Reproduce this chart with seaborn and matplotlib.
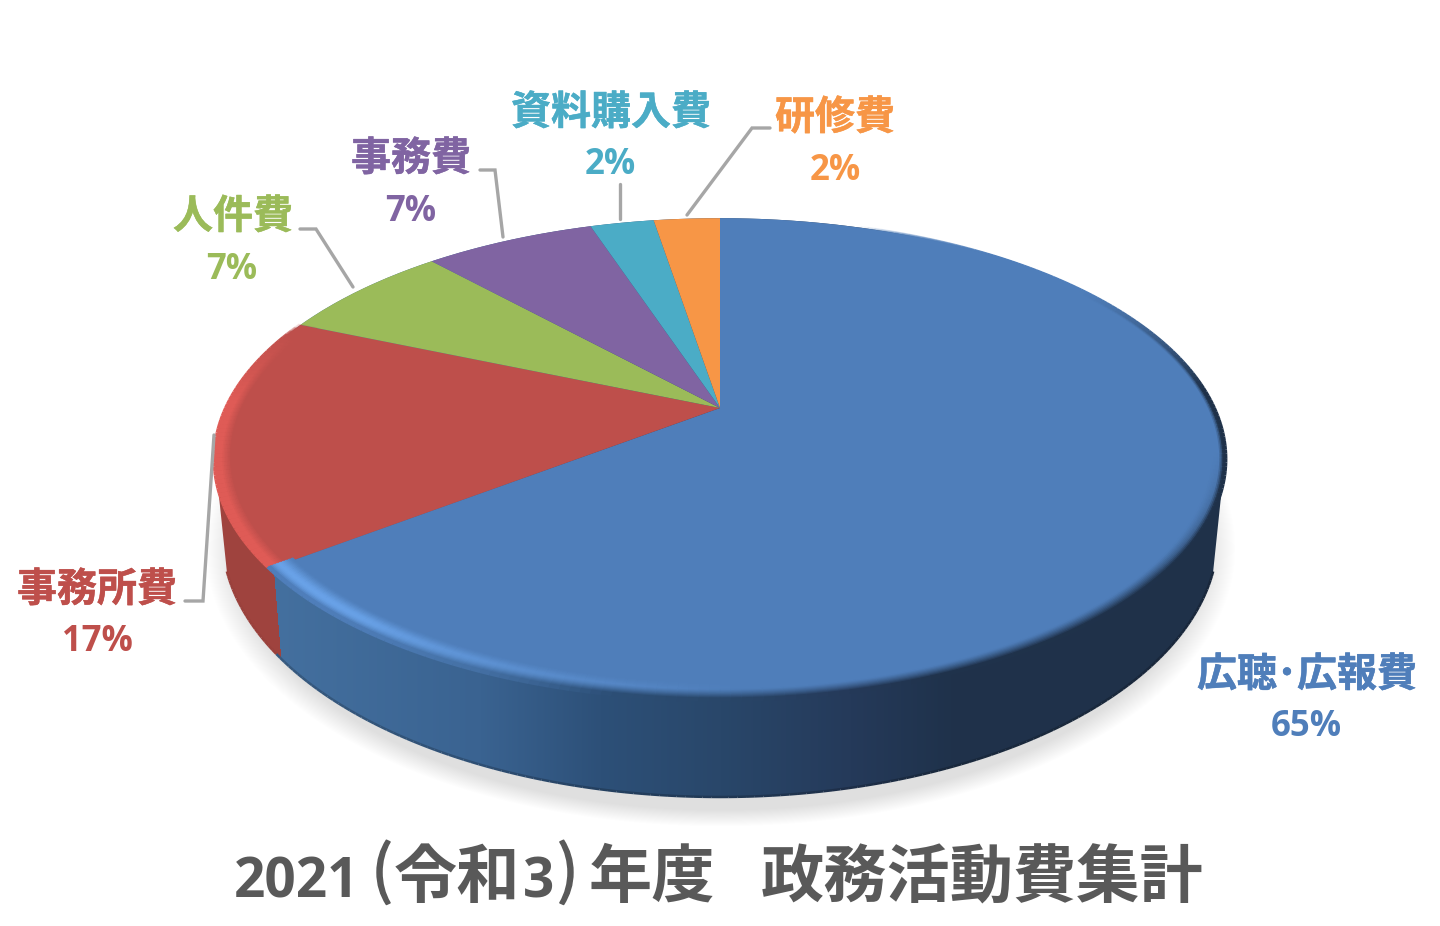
import matplotlib
matplotlib.use('Agg')
import matplotlib.patheffects as pe
import matplotlib.pyplot as plt
from matplotlib.collections import LineCollection
from matplotlib.colors import to_rgb
from matplotlib.path import Path
from matplotlib.transforms import Transform
import numpy as np
import seaborn as sns

# data
categories = ['広聴･広報費', '事務所費', '人件費', '事務費', '資料購入費', '研修費']
pct_labels = ['65%', '17%', '7%', '7%', '2%', '2%']
shares = [64.6, 16.8, 6.8, 6.7, 2.5, 2.6]
title_parts = ['2021', '(', '令和', '3', ')', '年度', '政務活動費集計']

# style
hex_colors = ['#4F7EBA', '#BE4F4B', '#9BBB59', '#8064A2', '#4BACC6', '#F79646']
name_pos = [(1307, 675), (97, 590), (233, 217), (411, 159), (611, 113), (835, 118)]
pct_pos = [(1306, 727), (97, 642), (232, 270), (411, 212), (610, 165), (835, 171)]
title_x = [297, 382, 457, 539, 568, 652, 982]
leaders = [
    [(214, 435), (203, 601), (185, 601)],
    [(300, 229), (316, 229), (353, 287)],
    [(480, 170), (495, 170), (503, 237)],
    [(620, 184), (620, 219)],
    [(770, 128), (752, 128), (687, 215)],
]
wall_x = [273, 480, 600, 720, 850, 950, 1230]
wall_colors = ['#44709F', '#3A6391', '#2D5078', '#29476A', '#253A5A', '#1F324B', '#1F3149']
red_wall = '#9F433E'

sns.set_theme(style='white')
plt.rcParams['font.family'] = ['Noto Sans CJK JP', 'DejaVu Sans']
palette = sns.color_palette(hex_colors)


class Tilt(Transform):
    # perspective view of the flat unit pie, result in pixels
    input_dims = 2
    output_dims = 2
    K, A, B, CX, CY = 0.2116, 230, 493.6, 720, 408

    def transform_non_affine(self, xy):
        xy = np.asarray(xy, dtype=float)
        w = 1 + self.K * xy[:, 1]
        return np.column_stack([self.CX + self.B * xy[:, 0] / w,
                                self.CY - self.A * xy[:, 1] / w])


def wall_rgb(x):
    rgb = np.array([to_rgb(c) for c in wall_colors])
    return np.stack([np.interp(x, wall_x, rgb[:, i]) for i in range(3)], axis=-1)


def ramp(v, lo, hi):
    return np.clip((v - lo) / (hi - lo), 0, 1)


fig = plt.figure(figsize=(14.4, 9.26), dpi=100)
ax = fig.add_axes([0, 0, 1, 1])

# soft shadow under the disc
yy, xx = np.mgrid[0:926, 0:1440]
d = np.sqrt(((xx - 720) / 515) ** 2 + ((yy - 548) / 278) ** 2)
shadow = np.ones((926, 1440, 4))
shadow[..., :3] = 0.875
shadow[..., 3] = 1 - ramp(d, 0.94, 1.0)
ax.imshow(shadow, extent=(0, 1440, 926, 0), aspect='auto', zorder=1)

# side wall
wall = wall_rgb(xx + 0.0)
wall[xx < 273 + (yy - 565) * 8 / 95] = to_rgb(red_wall)
tilt = Tilt() + ax.transData
angles = np.radians(np.linspace(-102, 102, 205))
upper = Tilt().transform(np.column_stack([np.sin(angles), np.cos(angles)]))
low_a = np.radians(np.linspace(8, 172, 165))
lower = np.column_stack([720 + 498 * np.cos(low_a), 535 + 262 * np.sin(low_a)])
outline = np.vstack([upper, lower, upper[:1]])
im = ax.imshow(wall, extent=(0, 1440, 926, 0), aspect='auto', zorder=2)
im.set_clip_path(Path(outline), transform=ax.transData)

# darker line that smooths the bottom edge of the wall
edge = np.where(lower[:, 0:1] < 280, np.array(to_rgb(red_wall)) * 0.97,
                wall_rgb(lower[:, 0:1]).reshape(-1, 3) * 0.8)
ax.add_collection(LineCollection(np.stack([lower[:-1], lower[1:]], axis=1),
                                 colors=edge[:-1], linewidths=1.8, zorder=3))

# the top of the pie
wedges, _ = ax.pie(shares, colors=palette, startangle=90, counterclock=False,
                   wedgeprops=dict(linewidth=0))
for w in wedges:
    w.set_transform(tilt)
    w.set_zorder(4)

# bevel along the front rim, drawn as thin rings
red_end = sum(shares[:2]) * 3.6
blue_end = shares[0] * 3.6
th = np.arange(20, red_end + 12, 1.0)
mid = th[:-1] + 0.5
blue = np.array(to_rgb(hex_colors[0]))
red = np.array(to_rgb(hex_colors[1]))
blue_light = np.array(to_rgb('#69A2E8'))
red_light = np.array(to_rgb('#DF5B56'))
radii = np.linspace(0.955, 1.004, 18)
for r0, r1 in zip(radii[:-1], radii[1:]):
    t = ramp((r0 + r1) / 2, 0.955, 1.0)
    pts = np.column_stack([r0 * np.sin(np.radians(th)), r0 * np.cos(np.radians(th))])
    xpix = Tilt().transform(pts)[:-1, 0]
    is_blue = mid < blue_end
    cols = np.where(is_blue[:, None], blue, red)
    # highlight on the lower left, fading towards the front
    hl = np.sin(np.pi * t ** 1.5)
    lb = ramp(mid, 178, 218)[:, None] * hl
    lr = (1 - ramp(mid, 272, 290))[:, None] * ramp(t, 0.4, 0.8)
    cols = np.where(is_blue[:, None], cols * (1 - lb) + blue_light * lb,
                    cols * (1 - lr) + red_light * lr)
    # dark blend into the wall, wide at the front and thin at the back
    front = ramp(mid, 100, 130)
    dk = (ramp(t, 0.45, 1.0) * front + ramp(t, 0.8, 1.0) * (1 - front) * ramp(mid, 55, 85))
    dk = (dk * (1 - ramp(mid, 190, 225)))[:, None] ** 1.3
    shade = wall_rgb(xpix)
    cols = np.where(is_blue[:, None], cols * (1 - dk) + shade * dk, cols)
    segs = np.stack([pts[:-1], pts[1:]], axis=1)
    alpha = (ramp(mid, 20, 40) * (1 - ramp(mid, red_end - 4, red_end)))[:, None]
    rgba = np.hstack([cols, alpha])
    ax.add_collection(LineCollection(segs, colors=rgba, linewidths=2.6,
                                     transform=tilt, capstyle='butt', zorder=5))

# leader lines
for pts in leaders:
    xs, ys = zip(*pts)
    ax.plot(xs, ys, color='#A6A6A6', lw=2.4, zorder=6, solid_joinstyle='miter')

# labels
for name, pct, c, p1, p2 in zip(categories, pct_labels, hex_colors, name_pos, pct_pos):
    ax.text(p1[0], p1[1], name, color=c, fontsize=28.8, fontweight='bold',
            ha='center', va='center', zorder=7,
            path_effects=[pe.withStroke(linewidth=0.35, foreground=c)])
    ax.text(p2[0], p2[1], pct, color=c, fontsize=25, fontweight='bold',
            family=['Open Sans', 'DejaVu Sans'], ha='center', va='center', zorder=7)

# title, placed piece by piece because its brackets and digits are narrow
for part, x in zip(title_parts, title_x):
    if part.isdigit():
        ax.text(x, 897, part, color='#595959', fontsize=39.5, fontweight='bold',
                family=['Open Sans', 'DejaVu Sans'], ha='center', va='baseline', zorder=7)
    elif part in '()':
        ax.text(x, 892, part, color='#595959', fontsize=45.5, fontweight='regular',
                ha='center', va='baseline', zorder=7,
                path_effects=[pe.withStroke(linewidth=1.2, foreground='#595959')])
    else:
        ax.text(x, 897, part, color='#595959', fontsize=45.5, fontweight='bold',
                ha='center', va='baseline', zorder=7)

ax.set_aspect('auto')
ax.set_xlim(0, 1440)
ax.set_ylim(926, 0)
ax.axis('off')
fig.savefig('out.png', dpi=100, facecolor='white')
